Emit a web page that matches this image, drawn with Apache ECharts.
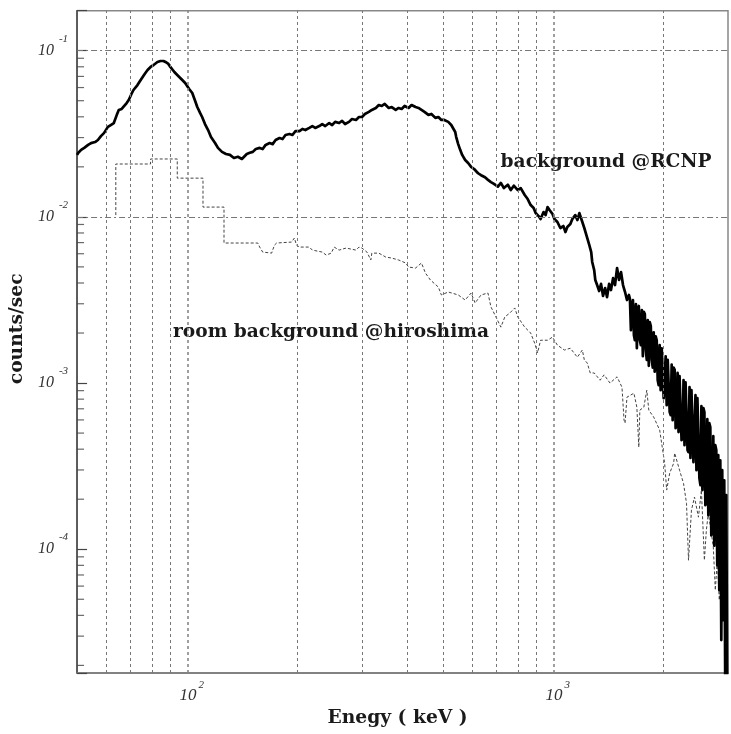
<!DOCTYPE html>
<html><head><meta charset="utf-8">
<script src="https://cdn.jsdelivr.net/npm/echarts@6/dist/echarts.min.js"></script>
<style>html,body{margin:0;padding:0;background:#fff}#c{width:731px;height:734px}</style>
</head><body><div id="c"></div>
<script>
// ---- data (energy keV, counts/sec) ----
const rcnpSpectrum = [
[50,0.0236],[50.4,0.0243],[51.3,0.0253],[52.3,0.0260],[53.6,0.0271],[54.6,0.0278],[56.0,0.0282],[57.0,0.0290],[58.1,0.0306],[59.2,0.0319],
[60.7,0.0348],[61.8,0.0357],[63.0,0.0367],[64.2,0.0411],[65.0,0.0440],[66.2,0.0446],[67.0,0.0458],[68.3,0.0484],[69.2,0.0505],[70.4,0.0549],
[71.3,0.0580],[73.1,0.0621],[74.6,0.0666],[76.5,0.0724],[77.9,0.0765],[79.4,0.0798],[80.9,0.0820],[82.9,0.0855],[84.5,0.0867],[86.1,0.0867],
[87.2,0.0855],[88.8,0.0832],[89.9,0.0798],[92.2,0.0744],[93.9,0.0714],[96.3,0.0675],[98.7,0.0639],[101.2,0.0588],[103.2,0.0556],[105.1,0.0498],
[106.5,0.0458],[108.4,0.0422],[109.8,0.0399],[111.8,0.0362],[114.0,0.0333],[116.1,0.0302],[119.1,0.0278],[121.3,0.0260],[124.4,0.0246],[127.6,0.0239],
[130.8,0.0236],[134.1,0.0226],[137.5,0.0230],[141.0,0.0223],[145.4,0.0239],[148.2,0.0243],
[151.0,0.0246],[153.9,0.0256],[157.7,0.0260],[160.7,0.0256],[163.7,0.0271],[167.9,0.0278],[171.1,0.0274],[174.3,0.0290],[178.7,0.0298],[182.1,0.0294],
[185.5,0.0311],[190.2,0.0315],[193.8,0.0311],[197.5,0.0328],[202.5,0.0328],[206.3,0.0338],[210.2,0.0333],[215.5,0.0343],[219.6,0.0352],[223.7,0.0343],
[229.4,0.0352],[233.7,0.0362],[238.2,0.0352],[244.2,0.0367],[248.8,0.0357],[253.5,0.0373],[259.9,0.0367],[264.8,0.0378],[269.8,0.0362],[276.6,0.0373],
[281.8,0.0388],[289.0,0.0383],[294.5,0.0399],[300.1,0.0399],[305.7,0.0416],[313.4,0.0428],[319.3,0.0440],[327.4,0.0452],[333.6,0.0471],[339.9,0.0465],
[346.3,0.0478],[355.1,0.0452],[361.8,0.0458],[371.0,0.0440],[378.0,0.0452],[385.1,0.0446],[392.4,0.0465],[402.3,0.0452],[409.9,0.0471],[420.3,0.0458],
[428.2,0.0452],[436.3,0.0440],[444.6,0.0428],[455.8,0.0411],[464.4,0.0416],[476.2,0.0394],[485.2,0.0399],[494.4,0.0383],[503.7,0.0383],[516.4,0.0373],
[526.2,0.0357],[532.8,0.0348],[539.5,0.0324],[542.9,0.0302],[549.7,0.0274],[556.6,0.0253],[563.6,0.0236],[574.3,0.0220],[585.1,0.0211],[596.2,0.0200],
[607.5,0.0194],[622.8,0.0183],[634.6,0.0178],[650.6,0.0173],[662.9,0.0167],[675.4,0.0162],[688.2,0.0158],[705.6,0.0152],
[718.9,0.0160],[732.6,0.0149],[751.1,0.0156],[765.3,0.0145],[779.8,0.0154],[799.5,0.0145],[814.6,0.0149],[835.2,0.01353],[851.0,0.0128],[867.1,0.01178],
[883.5,0.01130],[894.7,0.01054],[911.5,0.01011],[922.9,0.00970],[940.4,0.01069],[952.3,0.01025],[964.2,0.01145],[976.4,0.01099],[994.9,0.01040],[1007,0.00970],
[1026,0.00931],[1045,0.00857],[1065,0.00881],[1079,0.00810],[1092,0.00869],[1113,0.00905],[1127,0.00970],[1148,0.01025],[1163,0.00957],[1178,0.01054],
[1200,0.00931],[1215,0.00857],[1238,0.00746],[1254,0.00677],[1269,0.00614],[1277,0.00535],[1293,0.00478],[1302,0.00417],[1317,0.00389],[1334,0.00358],
[1350,0.00395],[1367,0.00334],[1385,0.00373],[1402,0.00329],[1420,0.00395],[1437,0.00363],[1456,0.00428],[1474,0.00389],[1493,0.00492],[1512,0.00417],
[1531,0.00465],[1550,0.00389],[1570,0.00353],[1589,0.00316],[1609,0.00339],
[1619,0.00320],[1629,0.00208],[1639,0.00295],[1650,0.00316],[1660,0.00194],[1670,0.00181],[1681,0.00299],[1691,0.00162],[1702,0.00275],[1712,0.00291],
[1723,0.00181],[1734,0.00169],[1745,0.00275],[1756,0.00145],[1767,0.00268],[1778,0.00260],[1789,0.00158],[1800,0.00138],[1811,0.00239],[1823,0.00127],
[1834,0.00233],[1846,0.00220],[1857,0.00138],[1869,0.00124],[1880,0.00202],[1892,0.00117],[1904,0.00191],[1916,0.00181],[1928,0.00104],[1940,0.000970],
[1952,0.00169],[1964,0.000906],[1977,0.00162],[1989,0.00158],[2002,0.000811],[2014,0.000789],[2027,0.00145],[2040,0.000736],[2053,0.00138],[2066,0.00138],
[2079,0.000668],[2092,0.000641],[2105,0.00129],[2118,0.000598],[2131,0.00124],[2145,0.00120],[2158,0.000535],[2171,0.000558],[2185,0.00115],[2198,0.000507],
[2212,0.00110],[2226,0.00109],[2240,0.000453],[2254,0.000466],[2268,0.00104],[2282,0.000423],[2297,0.00101],[2311,0.00100],[2326,0.000395],[2340,0.000384],
[2355,0.000944],[2369,0.000354],[2384,0.000906],[2399,0.000894],[2414,0.000334],[2430,0.000334],[2445,0.000845],[2460,0.000299],[2475,0.000811],[2491,0.000789],
[2506,0.000268],[2522,0.000243],[2538,0.000726],[2554,0.000227],[2570,0.000706],[2586,0.000668],[2602,0.000184],[2618,0.000197],[2634,0.000606],[2651,0.000160],
[2667,0.000574],[2684,0.000543],[2701,0.000121],[2718,0.000130],[2735,0.000479],[2752,0.000105],[2769,0.000423],[2787,0.000395],[2804,0.0000800],
[2822,0.000368],[2840,0.0000567],[2858,0.000343],[2876,0.0000284],[2893,0.000299],[2912,0.0000374],[2930,0.000260],[2948,0.0000150],[2967,0.000212],[2985,0.0000150]
];
const roomSpectrum = [
[63.8,0.01025],[63.8,0.0208],[79.4,0.0208],[79.4,0.0223],[93.9,0.0223],[93.9,0.0171],[110.4,0.0171],[110.4,0.01145],[126.0,0.01145],[126.0,0.00696],
[155.8,0.00696],[157.7,0.00658],[160.7,0.00614],[162.7,0.00605],[170.0,0.00605],[171.1,0.00631],[173.2,0.00677],[175.4,0.00696],[192.6,0.00705],[196.2,0.00746],
[198.7,0.00677],[202.5,0.00658],[215.5,0.00658],[219.6,0.00631],[233.7,0.00614],[239.7,0.00589],[247.3,0.00605],[252.0,0.00658],[259.9,0.00631],[271.5,0.00649],
[289.0,0.00631],[294.5,0.00658],[300.1,0.00649],[309.6,0.00614],[317.3,0.00550],[319.3,0.00605],[333.6,0.00605],[348.5,0.00573],[361.8,0.00565],[378.0,0.00550],
[394.9,0.00528],[402.3,0.00499],[420.3,0.00492],[436.3,0.00528],[447.3,0.00459],[461.5,0.00417],[485.2,0.00378],[494.4,0.00339],[516.4,0.00353],[549.7,0.00339],
[574.3,0.00316],[596.2,0.00348],[611.3,0.00303],[634.6,0.00339],[662.9,0.00348],[675.4,0.00287],[696.9,0.00250],[718.9,0.00217],[737.1,0.00250],[760.6,0.00264],
[784.7,0.00283],[799.5,0.00250],[835.2,0.00217],[867.1,0.00200],[889.0,0.00174],[905.8,0.00152],[922.9,0.00181],[964.2,0.00181],[994.9,0.00189],[1026,0.00169],
[1072,0.00158],[1113,0.00162],[1163,0.00143],[1200,0.00158],[1215,0.00138],[1238,0.00132],[1261,0.00115],[1293,0.00115],[1342,0.00104],[1376,0.00112],
[1428,0.00100],[1493,0.00109],[1521,0.00100],[1540,0.000944],[1560,0.000598],[1570,0.000574],[1589,0.000822],[1660,0.000869],[1691,0.000716],[1712,0.000411],
[1723,0.000687],[1767,0.000716],[1800,0.000906],[1823,0.000687],[1880,0.000624],[1952,0.000521],[2014,0.000329],[2040,0.000227],[2079,0.000287],[2131,0.000329],
[2145,0.000379],[2212,0.000299],[2268,0.000249],[2311,0.000189],[2340,0.0000859],[2384,0.000172],[2430,0.000206],[2491,0.000156],[2538,0.000227],[2586,0.0000859],
[2618,0.000130],[2651,0.000165],[2701,0.000125],[2735,0.000103],[2770,0.0000567],[2804,0.0000859],[2840,0.0000494],[2876,0.0000651],[2912,0.0000430]
];
const xRange = [50, 3000];
const yRange = [1.8e-5, 0.174];
const xMinorGrid = [60,70,80,90,200,300,400,500,600,700,800,900,2000];
const xDecadeGrid = [100,1000];
const yDecadeGrid = [1e-4,1e-3,1e-2,1e-1];
const yMinorTicks = [2e-5,3e-5,4e-5,5e-5,6e-5,7e-5,8e-5,9e-5,2e-4,3e-4,4e-4,5e-4,6e-4,7e-4,8e-4,9e-4,
  2e-3,3e-3,4e-3,5e-3,6e-3,7e-3,8e-3,9e-3,2e-2,3e-2,4e-2,5e-2,6e-2,7e-2,8e-2,9e-2];
const xTickExponents = [2,3];
const yTickExponents = [-4,-3,-2,-1];
const seriesNames = ['background @RCNP', 'room background @hiroshima'];

function powLabel(v, exps) {
  const l = Math.log10(v), e = Math.round(l);
  if (Math.abs(l - e) > 1e-6 || exps.indexOf(e) < 0) return '';
  return '{b|10}{s|' + e + '}';
}
const labelFont = 'Liberation Serif';
const chart = echarts.init(document.getElementById('c'), null, {renderer: 'canvas'});
const titleStyle = {fontFamily: 'DejaVu Serif', fontWeight: 'bold', fontSize: 18.7, color: '#1a1a1a'};
const annFont = 'bold 18.6px "DejaVu Serif"';

chart.setOption({
  animation: false,
  backgroundColor: '#fff',
  grid: {left: 74, right: 0, top: 10.7, bottom: 61, show: true, borderColor: '#888', borderWidth: 1.5, backgroundColor: 'transparent'},
  xAxis: {
    type: 'log', logBase: 10, min: xRange[0], max: xRange[1],
    axisLine: {show: true, lineStyle: {color: '#777', width: 1.5}},
    axisTick: {show: false}, splitLine: {show: false},
    axisLabel: {
      margin: 7, showMinLabel: true, showMaxLabel: true,
      formatter: v => powLabel(v, xTickExponents),
      rich: {
        b: {fontFamily: labelFont, fontStyle: 'italic', fontSize: 17, color: '#333', padding: [0, 0, 0, 9]},
        s: {fontFamily: labelFont, fontStyle: 'italic', fontSize: 11, color: '#333', padding: [0, 0, 20, 2]}
      }
    },
    name: 'Enegy ( keV )', nameLocation: 'middle', nameGap: 34,
    nameTextStyle: Object.assign({padding: [0, 10, 0, 0]}, titleStyle)
  },
  yAxis: {
    type: 'log', logBase: 10, min: yRange[0], max: yRange[1],
    axisLine: {show: true, lineStyle: {color: '#444', width: 1.5}},
    axisTick: {show: true, inside: true, length: 10, lineStyle: {color: '#444', width: 1.2}},
    splitLine: {show: false},
    axisLabel: {
      margin: 9,
      formatter: v => powLabel(v, yTickExponents),
      rich: {
        b: {fontFamily: labelFont, fontStyle: 'italic', fontSize: 16, color: '#333'},
        s: {fontFamily: labelFont, fontStyle: 'italic', fontSize: 11, color: '#333', padding: [0, 0, 24, 5]}
      }
    },
    name: 'counts/sec', nameLocation: 'middle', nameGap: 43,
    nameTextStyle: Object.assign({padding: [0, 0, 0, 26]}, titleStyle)
  },
  series: [
    {
      type: 'scatter', name: 'ticks', silent: true, clip: false,
      data: yMinorTicks.map(v => [xRange[0], v]),
      symbol: 'rect', symbolSize: [7, 1.2], symbolOffset: [3.5, 0],
      itemStyle: {color: '#444'},
      markLine: {
        silent: true, symbol: ['none', 'none'], label: {show: false}, animation: false,
        data: [].concat(
          xMinorGrid.map(v => ({xAxis: v, lineStyle: {type: [3, 3], color: '#777', width: 1}})),
          xDecadeGrid.map(v => ({xAxis: v, lineStyle: {type: [3, 3], color: '#888', width: 1.6}})),
          yDecadeGrid.map(v => ({yAxis: v, lineStyle: {type: [6, 3, 2, 3], color: '#777', width: 1}}))
        )
      }
    },
    {
      type: 'line', name: seriesNames[1], data: roomSpectrum, symbol: 'none', showSymbol: false,
      clip: true, silent: true,
      lineStyle: {color: '#444', width: 1, type: [3, 2]}
    },
    {
      type: 'line', name: seriesNames[0], data: rcnpSpectrum, symbol: 'none', showSymbol: false,
      clip: true, silent: true,
      lineStyle: {color: '#000', width: 2.7, join: 'round'}
    }
  ],
  graphic: [
    {type: 'text', x: 606, y: 162, silent: true,
     style: {text: seriesNames[0], font: annFont, fill: '#1a1a1a', align: 'center', verticalAlign: 'middle', textAlign: 'center', textVerticalAlign: 'middle'}},
    {type: 'text', x: 331, y: 332, silent: true,
     style: {text: seriesNames[1], font: annFont, fill: '#1a1a1a', align: 'center', verticalAlign: 'middle', textAlign: 'center', textVerticalAlign: 'middle'}}
  ]
});
</script>
</body></html>
